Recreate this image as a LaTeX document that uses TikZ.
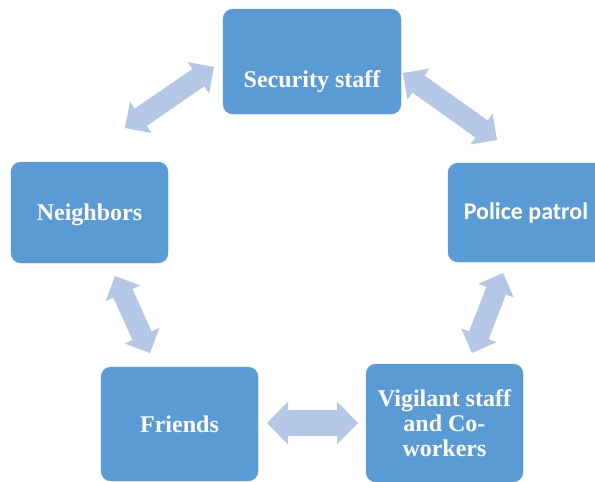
\documentclass[tikz,border=0pt]{standalone}
\usepackage{fontspec}
\setmainfont{Liberation Serif}
\newfontfamily\calibrifont{Carlito}
\usetikzlibrary{arrows.meta}

\definecolor{boxblue}{RGB}{91,155,213}
\definecolor{arrowblue}{RGB}{180,199,231}

\tikzset{
  card/.style={fill=boxblue, draw=boxblue, rounded corners=10pt,
    text=white, font=\fontsize{24}{25}\selectfont\bfseries,
    align=center, inner sep=0pt},
  linkarrow/.style={draw=arrowblue, line width=21pt,
    {Triangle[width=38pt,length=19pt,line width=0pt]}-{Triangle[width=38pt,length=19pt,line width=0pt]}},
  widearrow/.style={draw=arrowblue, line width=26pt,
    {Triangle[width=43pt,length=21pt,line width=0pt]}-{Triangle[width=43pt,length=21pt,line width=0pt]}}
}

\begin{document}
\begin{tikzpicture}[x=1pt,y=-1pt]
  \useasboundingbox (0,0) rectangle (595,482);
  \clip (0,0) rectangle (595,482);

  % the five parties of the cycle
  \node[card, minimum width=178pt, minimum height=105pt,
        text height=51pt, text depth=0pt] (sec) at (312,61.5) {Security staff};
  \node[card, minimum width=156pt, minimum height=99pt,
        font=\fontsize{24}{25}\selectfont\calibrifont\bfseries] (pol) at (526,212.5) {Police patrol};
  \node[card, minimum width=157pt, minimum height=118pt] (vig) at (444.5,423)
        {Vigilant staff\\and Co-\\workers};
  \node[card, minimum width=157pt, minimum height=114pt] (fri) at (179.5,424) {Friends};
  \node[card, minimum width=157pt, minimum height=101pt,
        text height=16pt, text depth=0pt] (nei) at (89.5,212.5) {Neighbors};

  % ends of the two-way arrows between neighbouring parties
  \coordinate (secnA) at (214,67);  \coordinate (secnB) at (125,128);
  \coordinate (secpA) at (403,73);  \coordinate (secpB) at (497,140);
  \coordinate (polvA) at (503,273); \coordinate (polvB) at (472,353);
  \coordinate (vigfA) at (358,423); \coordinate (vigfB) at (267,423);
  \coordinate (frinA) at (150,353); \coordinate (frinB) at (115,276);

  \draw[linkarrow] (secnA) -- (secnB);
  \draw[linkarrow] (secpA) -- (secpB);
  \draw[linkarrow] (polvA) -- (polvB);
  \draw[widearrow] (vigfA) -- (vigfB);
  \draw[linkarrow] (frinA) -- (frinB);
\end{tikzpicture}
\end{document}
